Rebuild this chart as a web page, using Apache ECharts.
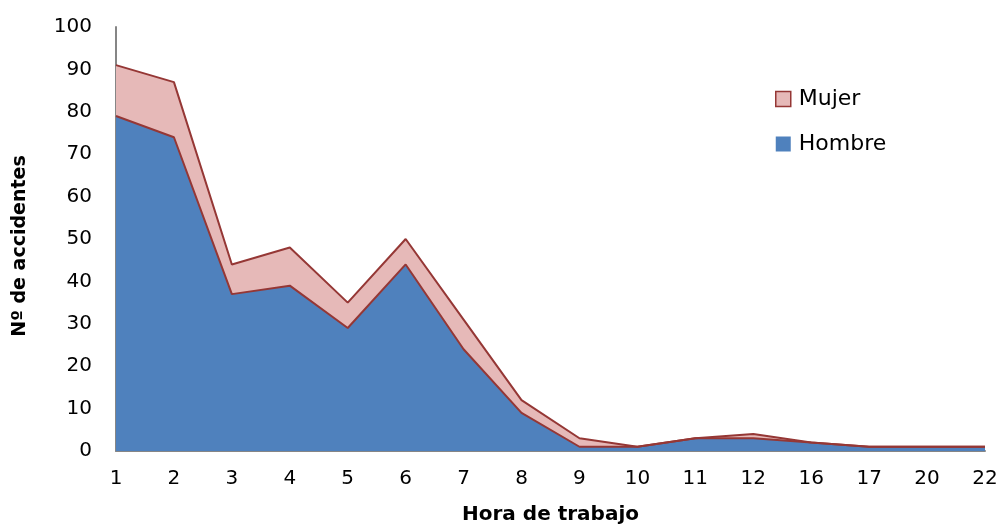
<!DOCTYPE html>
<html><head><meta charset="utf-8">
<script src="https://cdn.jsdelivr.net/npm/echarts@6/dist/echarts.min.js"></script>
<style>html,body{margin:0;padding:0;background:#fff}#c{width:1003px;height:525px}</style>
</head><body><div id="c"></div>
<script>
const categories = ['1','2','3','4','5','6','7','8','9','10','11','12','16','17','20','22'];
const hombre = [79,74,37,39,29,44,24,9,1,1,3,3,2,1,1,1];
const mujer  = [12,13,7,9,6,6,7,3,2,0,0,1,0,0,0,0];
const yTicks = [0,10,20,30,40,50,60,70,80,90,100];

const font = '"DejaVu Sans", "Liberation Sans", Arial, sans-serif';
const chart = echarts.init(document.getElementById('c'));
chart.setOption({
  animation: false,
  grid: {left: 116, right: 18, top: 27, bottom: 74, outerBoundsMode: 'none', containLabel: false},
  legend: {
    orient: 'vertical', left: 770, top: 83, itemGap: 23,
    itemWidth: 15, itemHeight: 15, icon: 'rect',
    textStyle: {fontFamily: font, fontSize: 22, color: '#000', padding: [0,0,0,3]},
    data: [
      {name: 'Mujer', itemStyle: {color: '#E6B9B8', borderColor: '#953735', borderWidth: 1.5}},
      {name: 'Hombre', itemStyle: {color: '#4F81BD', borderWidth: 0}}
    ]
  },
  xAxis: {
    type: 'category', data: categories, boundaryGap: false,
    name: 'Hora de trabajo', nameLocation: 'middle', nameGap: 54,
    nameTextStyle: {fontFamily: font, fontSize: 20, fontWeight: 'bold', color: '#000'},
    axisLine: {lineStyle: {color: '#868686', width: 2}},
    axisTick: {show: false},
    axisLabel: {fontFamily: font, fontSize: 20, color: '#000', margin: 18}
  },
  yAxis: {
    type: 'value', min: 0, max: 100, interval: 10,
    name: 'Nº de accidentes', nameLocation: 'middle', nameGap: 86, nameRotate: 90,
    nameTextStyle: {fontFamily: font, fontSize: 19, fontWeight: 'bold', color: '#000', padding: [0,14,0,0]},
    axisLine: {show: true, lineStyle: {color: '#868686', width: 2}},
    axisTick: {show: false},
    splitLine: {show: false},
    axisLabel: {fontFamily: font, fontSize: 20, color: '#000', margin: 24,
      formatter: v => yTicks.includes(v) ? String(v) : ''}
  },
  series: [
    {name: 'Hombre', type: 'line', stack: 'total', data: hombre, symbol: 'none',
     itemStyle: {color: '#4F81BD'},
     lineStyle: {color: '#953735', width: 2},
     areaStyle: {color: '#4F81BD', opacity: 1}},
    {name: 'Mujer', type: 'line', stack: 'total', data: mujer, symbol: 'none',
     itemStyle: {color: '#E6B9B8'},
     lineStyle: {color: '#953735', width: 2},
     areaStyle: {color: '#E6B9B8', opacity: 1}}
  ]
});
</script></body></html>
